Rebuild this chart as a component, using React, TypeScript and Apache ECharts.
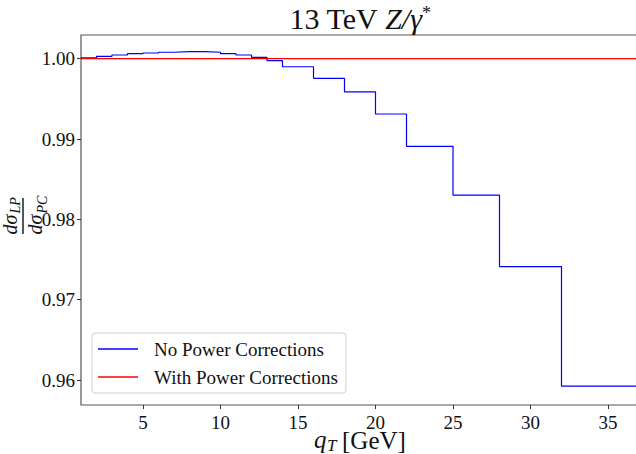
import React, { useEffect, useRef } from "react";
import * as echarts from "echarts";

const binEdges = [1, 2, 3, 4, 5, 6, 7, 8, 9, 10, 11, 12, 13, 14, 16, 18, 20, 22, 25, 28, 32, 37];
const noPowerCorrections = [
  1.00012, 1.0003, 1.00046, 1.00062, 1.00071, 1.0008, 1.00087, 1.00087, 1.0008, 1.00062,
  1.00046, 1.00017, 0.99975, 0.999, 0.99756, 0.99586, 0.99312, 0.9891, 0.98301, 0.97413, 0.95925,
];
const withPowerCorrections = [
  1, 1, 1, 1, 1, 1, 1, 1, 1, 1, 1, 1, 1, 1, 1, 1, 1, 1, 1, 1, 1,
];
const xTicks = [5, 10, 15, 20, 25, 30, 35];
const yTicks = [0.96, 0.97, 0.98, 0.99, 1.0];
const seriesNames = ["No Power Corrections", "With Power Corrections"];

function stepData(values: number[]) {
  const pts: [number, number][] = values.map((v, i) => [binEdges[i], v]);
  pts.push([binEdges[binEdges.length - 1], values[values.length - 1]]);
  return pts;
}

const FONT = "'Liberation Serif', 'DejaVu Serif', serif";

function txt(text: string, x: number, y: number, size: number, va: string, italic = true, lh?: number) {
  return {
    type: "text",
    x,
    y,
    style: {
      text,
      fontFamily: FONT,
      fontStyle: italic ? "italic" : "normal",
      fontSize: size,
      lineHeight: lh ?? size,
      fill: "#111",
      align: "left",
      verticalAlign: va,
      textAlign: "left",
      textVerticalAlign: va,
    },
  };
}

export default function App() {
  const ref = useRef<HTMLDivElement>(null);
  useEffect(() => {
    if (!ref.current) return;
    const chart = echarts.init(ref.current, undefined, { renderer: "svg" });
    chart.setOption({
      animation: false,
      grid: {
        left: 81,
        top: 35,
        right: -3,
        bottom: 49,
        containLabel: false,
        outerBoundsMode: "none",
        show: true,
        borderColor: "#555",
        borderWidth: 1.2,
        backgroundColor: "transparent",
      },
      xAxis: {
        type: "value",
        min: 1,
        max: 37,
        axisLine: { show: false },
        splitLine: { show: false },
        axisTick: {
          show: true,
          inside: false,
          length: 4,
          customValues: xTicks,
          lineStyle: { color: "#333" },
        },
        axisLabel: {
          customValues: xTicks,
          fontFamily: FONT,
          fontSize: 19,
          lineHeight: 18,
          color: "#111",
          margin: 8,
        },
      },
      yAxis: {
        type: "value",
        min: 0.9569,
        max: 1.00295,
        axisLine: { show: false },
        splitLine: { show: false },
        axisTick: {
          show: true,
          inside: false,
          length: 4,
          customValues: yTicks,
          lineStyle: { color: "#333" },
        },
        axisLabel: {
          customValues: yTicks,
          formatter: (v: number) => v.toFixed(2),
          fontFamily: FONT,
          fontSize: 19,
          color: "#111",
          margin: 6,
        },
      },
      legend: {
        orient: "vertical",
        left: 92,
        top: 333,
        padding: [4, 8, 4, 6],
        itemGap: 4,
        itemWidth: 40,
        itemHeight: 1.5,
        icon: "rect",
        borderColor: "#d0d0d0",
        borderWidth: 1,
        borderRadius: 3,
        backgroundColor: "rgba(255,255,255,0.8)",
        textStyle: {
          fontFamily: FONT,
          fontSize: 19,
          color: "#111",
          lineHeight: 24,
          padding: [0, 0, 0, 11],
        },
        data: seriesNames,
      },
      series: [
        {
          name: seriesNames[0],
          type: "line",
          step: "end",
          symbol: "none",
          showSymbol: false,
          color: "#0000ff",
          lineStyle: { color: "#0000ff", width: 1.2 },
          data: stepData(noPowerCorrections),
        },
        {
          name: seriesNames[1],
          type: "line",
          step: "end",
          symbol: "none",
          showSymbol: false,
          color: "#ff0000",
          lineStyle: { color: "#ff0000", width: 1.2 },
          data: stepData(withPowerCorrections),
        },
      ],
      graphic: [
        {
          type: "text",
          x: 360,
          y: 3,
          style: {
            text: "{n|13 TeV }{i|Z/γ}{s|*}",
            textAlign: "center",
            align: "center",
            rich: {
              n: { fontFamily: FONT, fontSize: 30, fill: "#111" },
              i: { fontFamily: FONT, fontStyle: "italic", fontSize: 30, fill: "#111" },
              s: { fontFamily: FONT, fontSize: 18, fill: "#111", padding: [0, 0, 10, 0] },
            },
          },
        },
        {
          type: "group",
          x: 314,
          y: 0,
          children: [
            txt("q", 0, 451, 25, "bottom", true, 24),
            txt("T", 13, 453, 17, "bottom", true, 16),
            txt("[GeV]", 28, 452, 25, "bottom", false, 23),
          ],
        },
        {
          type: "group",
          x: 23,
          y: 216,
          rotation: Math.PI / 2,
          children: [
            {
              type: "line",
              shape: { x1: -18, y1: 0, x2: 18, y2: 0 },
              style: { stroke: "#111", lineWidth: 1.4 },
            },
            txt("dσ", -18.5, -3, 20, "bottom"),
            txt("LP", 2.5, -1, 14, "bottom"),
            txt("dσ", -18.5, 2, 20, "top"),
            txt("PC", 2.5, 12, 14, "top"),
          ],
        },
      ],
    });
    return () => chart.dispose();
  }, []);
  return <div ref={ref} style={{ width: 636, height: 454, position: "absolute", left: 0, top: 0 }} />;
}
